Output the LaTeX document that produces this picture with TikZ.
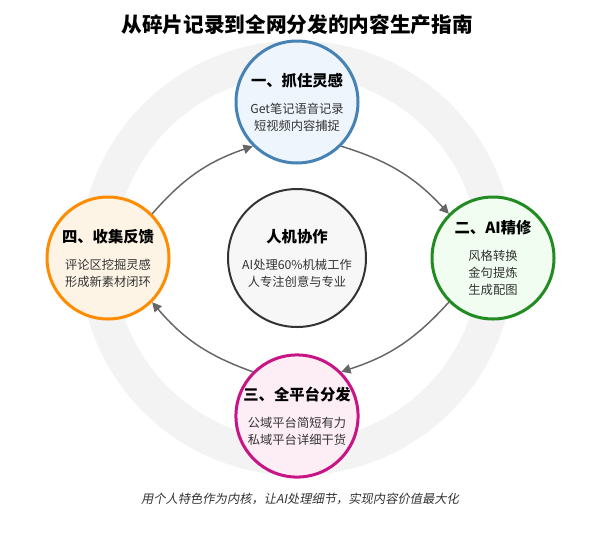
\documentclass[tikz,border=0pt]{standalone}
\usepackage{fontspec}
\setmainfont{Noto Sans CJK SC}
\newfontfamily\capfont[FakeSlant=0.2]{Noto Sans CJK SC}
\usepackage{xcolor}
\usetikzlibrary{arrows.meta}
\definecolor{ringgray}{RGB}{243,243,243}
\definecolor{stepblue}{RGB}{70,130,180}
\definecolor{fillblue}{RGB}{238,245,253}
\definecolor{stepgreen}{RGB}{34,139,34}
\definecolor{fillgreen}{RGB}{240,253,240}
\definecolor{stepmagenta}{RGB}{199,21,133}
\definecolor{fillmagenta}{RGB}{253,238,245}
\definecolor{steporange}{RGB}{255,140,0}
\definecolor{fillorange}{RGB}{254,244,230}
\definecolor{coregray}{RGB}{51,51,51}
\definecolor{corefill}{RGB}{247,247,247}
\definecolor{arrowgray}{RGB}{102,102,102}
\newcommand{\stagetitle}[1]{{\fontsize{11.5}{14}\selectfont\bfseries\color{black} #1}}

\begin{document}
\begin{tikzpicture}[
  x=0.75pt, y=0.75pt,
  font=\fontsize{9.2}{12.75}\selectfont,
  stage/.style={circle, draw, line width=2.25pt, minimum size=91.5pt, inner sep=0pt, align=center, text=black!80},
  core/.style={circle, draw=coregray, fill=corefill, line width=1.5pt, minimum size=103.5pt, inner sep=0pt, align=center, text=black!80},
  flow/.style={draw=arrowgray, line width=1.1pt, -{Triangle[length=7pt,width=7pt]}}
]
\useasboundingbox (0,0) rectangle (592,-532);
\draw[ringgray, line width=26.25pt] (297,-258) circle (200);
\node (title) at (297,-25) {\fontsize{15.5}{18}\selectfont\bfseries 从碎片记录到全网分发的内容生产指南};
\node[core] (core) at (297,-258) {\stagetitle{人机协作}\\[7.5pt]AI处理60\%机械工作\\人专注创意与专业};
\node[stage, draw=stepblue, fill=fillblue] (s1) at (297,-102) {\stagetitle{一、抓住灵感}\\[7.5pt]Get笔记语音记录\\短视频内容捕捉};
\node[stage, draw=stepgreen, fill=fillgreen] (s2) at (493,-258) {\stagetitle{二、AI精修}\\[7.5pt]风格转换\\金句提炼\\生成配图};
\node[stage, draw=stepmagenta, fill=fillmagenta] (s3) at (297,-416) {\stagetitle{三、全平台分发}\\[7.5pt]公域平台简短有力\\私域平台详细干货};
\node[stage, draw=steporange, fill=fillorange] (s4) at (108,-258) {\stagetitle{四、收集反馈}\\[7.5pt]评论区挖掘灵感\\形成新素材闭环};
\draw[flow] (s1.-45) to[bend left=15] (s2.135);
\draw[flow] (s2.-135) to[bend left=15] (s3.45);
\draw[flow] (s3.135) to[bend left=15] (s4.-45);
\draw[flow] (s4.45) to[bend left=15] (s1.-135);
\node[text=black!80] (caption) at (300,-499) {\capfont\fontsize{9.2}{11}\selectfont 用个人特色作为内核，让AI处理细节，实现内容价值最大化};
\end{tikzpicture}
\end{document}
